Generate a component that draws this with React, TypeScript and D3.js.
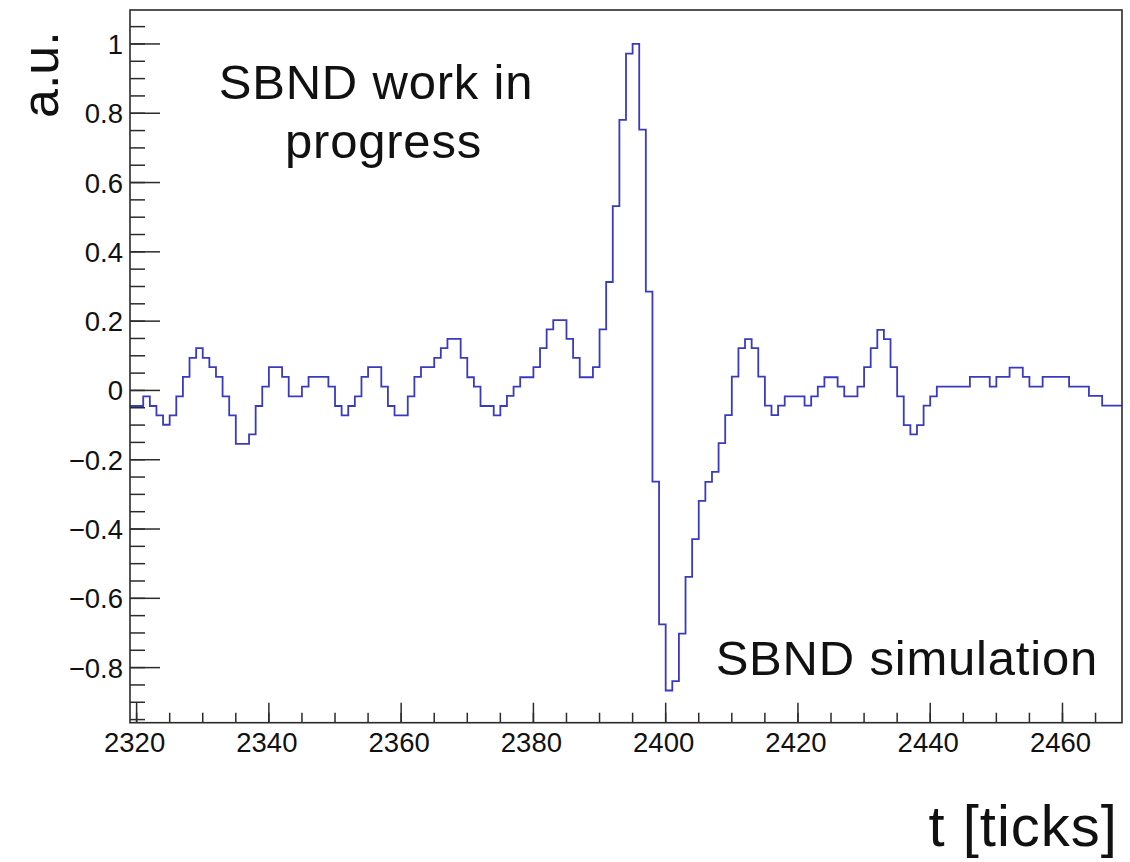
import React from "react";
import * as d3 from "d3";

const firstBin = 2319;
const binValues: number[] = [
  -0.045, -0.045, -0.017, -0.045, -0.072, -0.099, -0.072, -0.017, 0.039, 0.094,
  0.122, 0.094, 0.067, 0.039, -0.017, -0.072, -0.154, -0.154, -0.127, -0.045,
  0.011, 0.067, 0.067, 0.039, -0.017, -0.017, 0.011, 0.039, 0.039, 0.039,
  0.011, -0.045, -0.072, -0.045, -0.017, 0.039, 0.067, 0.067, 0.011, -0.045,
  -0.072, -0.072, -0.017, 0.039, 0.067, 0.067, 0.094, 0.122, 0.149, 0.149,
  0.094, 0.038, 0.011, -0.045, -0.045, -0.072, -0.045, -0.016, 0.011, 0.038,
  0.038, 0.067, 0.122, 0.176, 0.203, 0.203, 0.149, 0.094, 0.038, 0.038,
  0.067, 0.176, 0.313, 0.532, 0.781, 0.972, 1.0, 0.753, 0.285, -0.263,
  -0.675, -0.866, -0.839, -0.702, -0.538, -0.429, -0.319, -0.264, -0.235, -0.152,
  -0.071, 0.04, 0.122, 0.148, 0.122, 0.04, -0.044, -0.071, -0.044, -0.017,
  -0.017, -0.017, -0.044, -0.017, 0.011, 0.038, 0.038, 0.011, -0.017, -0.017,
  0.011, 0.067, 0.122, 0.175, 0.148, 0.067, -0.017, -0.1, -0.127, -0.1,
  -0.044, -0.017, 0.011, 0.011, 0.011, 0.011, 0.011, 0.039, 0.039, 0.039,
  0.011, 0.039, 0.039, 0.066, 0.066, 0.039, 0.011, 0.011, 0.039, 0.039,
  0.039, 0.039, 0.011, 0.011, 0.011, -0.016, -0.016, -0.044, -0.044, -0.044,
];

const xDomain: [number, number] = [2319, 2469];
const yDomain: [number, number] = [-0.959, 1.098];
const xMajorTicks = [2320, 2340, 2360, 2380, 2400, 2420, 2440, 2460];
const yMajorTicks = [-0.8, -0.6, -0.4, -0.2, 0, 0.2, 0.4, 0.6, 0.8, 1];
const xMinorTicks = d3.range(2320, 2469, 5);
const yMinorTicks = d3.range(-0.95, 1.06, 0.05);

const yLabel = "a.u.";
const xLabel = "t [ticks]";
const noteLines = ["SBND work in", "progress"];
const simLabel = "SBND simulation";

const W = 1130;
const H = 862;
const L = 130;
const R = 1122;
const T = 10;
const B = 722.7;

const fmtY = (v: number) => {
  const s = d3.format("~g")(Math.round(v * 10) / 10);
  return s.replace("-", "\u2212");
};

export default function App() {
  const x = d3.scaleLinear().domain(xDomain).range([L, R]);
  const y = d3.scaleLinear().domain(yDomain).range([B, T]);

  const pts: [number, number][] = binValues.map((v, i) => [firstBin + i, v]);
  pts.push([firstBin + binValues.length, binValues[binValues.length - 1]]);
  const line = d3
    .line<[number, number]>()
    .x((d) => x(d[0]))
    .y((d) => y(d[1]))
    .curve(d3.curveStepAfter);

  const axisColor = "#2b2b2b";
  const font = "'Liberation Sans', Arial, Helvetica, sans-serif";

  return (
    <svg
      width={W}
      height={H}
      style={{ position: "absolute", left: 0, top: 0, background: "#fff" }}
      fontFamily={font}
    >
      <rect x={0} y={0} width={W} height={H} fill="#fff" />
      {/* histogram */}
      <path d={line(pts) || ""} fill="none" stroke="#3a3ac0" strokeWidth={1.8} />

      {/* frame */}
      <rect x={L} y={T} width={R - L} height={B - T} fill="none" stroke={axisColor} strokeWidth={1.6} />

      {/* y ticks */}
      {yMinorTicks.map((v, i) => (
        <line key={"ym" + i} x1={L} x2={L + 15} y1={y(v)} y2={y(v)} stroke={axisColor} strokeWidth={1.5} />
      ))}
      {yMajorTicks.map((v, i) => (
        <g key={"yM" + i}>
          <line x1={L} x2={L + 30} y1={y(v)} y2={y(v)} stroke={axisColor} strokeWidth={1.5} />
          <text x={123} y={y(v) + 10} textAnchor="end" fontSize={27.5} fill="#111">
            {fmtY(v)}
          </text>
        </g>
      ))}

      {/* x ticks */}
      {xMinorTicks.map((v, i) => (
        <line key={"xm" + i} x1={x(v)} x2={x(v)} y1={B} y2={B - 10} stroke={axisColor} strokeWidth={1.5} />
      ))}
      {xMajorTicks.map((v, i) => (
        <g key={"xM" + i}>
          <line x1={x(v)} x2={x(v)} y1={B} y2={B - 20} stroke={axisColor} strokeWidth={1.5} />
          <text x={x(v) - 2} y={752} textAnchor="middle" fontSize={27.5} fill="#111">
            {v}
          </text>
        </g>
      ))}

      {/* axis titles */}
      <text
        transform={`translate(58, 118) rotate(-90)`}
        fontSize={52}
        fill="#111"
        textAnchor="start"
      >
        {yLabel}
      </text>
      <text x={1118} y={846} textAnchor="end" fontSize={58} letterSpacing={1} fill="#111">
        {xLabel}
      </text>

      {/* annotations */}
      <text x={376} y={99.3} textAnchor="middle" fontSize={49} letterSpacing={0.8} fill="#111">
        {noteLines[0]}
      </text>
      <text x={383.5} y={158} textAnchor="middle" fontSize={49} letterSpacing={0.8} fill="#111">
        {noteLines[1]}
      </text>
      <text x={1098} y={675} textAnchor="end" fontSize={49} letterSpacing={0.8} fill="#111">
        {simLabel}
      </text>
    </svg>
  );
}
